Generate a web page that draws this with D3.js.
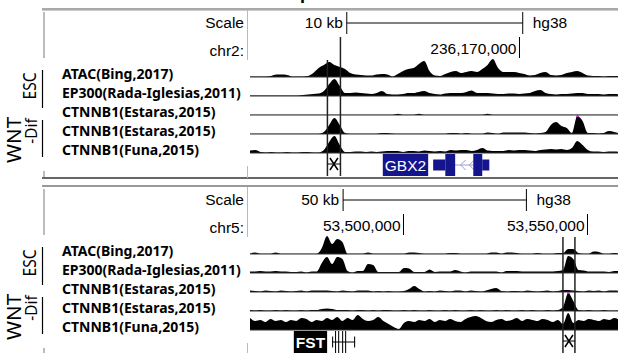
<!DOCTYPE html>
<html>
<head>
<meta charset="utf-8">
<script src="https://cdn.jsdelivr.net/npm/d3@7"></script>
<style>
  body { margin: 0; background: #fff; }
  svg { display: block; }
</style>
</head>
<body>
<div id="chart"></div>
<script>
// ---- data ----
const trackNames = ['ATAC(Bing,2017)', 'EP300(Rada-Iglesias,2011)', 'CTNNB1(Estaras,2015)', 'CTNNB1(Estaras,2015)', 'CTNNB1(Funa,2015)']
const groupNames = ['ESC', 'WNT', '-Dif']

// GBX2 locus, chr2, 300 bp bins
const gbxChrom = 'chr2:'
const gbxView = [236154700, 236175700]
const gbxBin = 300
const gbxTicks = [236170000]
const gbxTickLabels = ['236,170,000']
const gbxScaleBar = [236160200, 236170200]
const gbxScaleLabel = '10 kb'
const gbxHighlight = [236159100, 236159840]
const gbxAtac = [0.5,0.5,0.5,0.5,1,2.5,2.5,2,0.5,0.5,0.5,1,4,9,12,15,12,10,8,4,2.5,2,1.5,1.5,2.5,3,2.5,0.5,3,6,8,9,13,16,6,1.5,1,3,5,6,4,5,6,5,8,12,18,9,5,5,5,4,3,1.5,2,4,5,2,1.5,2,4,5,6,4,1.5,1,1,0.5,1,1,1]
const gbxEp300 = [0.5,0.5,0.5,0.5,0.5,0.5,0.5,0.5,0.5,0.5,1,1.5,2,2.5,5,12,17,10,3,3,3.5,3,2.5,2,3,5,2,1.5,1.5,2,3,3,4,5,3,2,1.5,2.5,3,3,3,4,5.5,3,3,3,2.5,2,2,2.5,2.5,2,2.5,3,5,6,3,2,1.5,2,2,2.5,3,3,2,2,2,1.5,2,2,1.5]
const gbxEstarasEsc = [0.3,0.3,0.3,0.3,0.3,0.3,0.3,0.3,0.3,0.3,0.3,0.3,0.3,0.3,0.3,0.3,0.3,0.3,0.3,0.3,0.3,0.3,0.3,0.3,0.3,0.3,0.3,0.3,1.2,0.3,0.3,0.3,1.2,0.3,0.3,0.3,0.3,0.3,0.3,0.3,0.3,0.3,0.3,0.3,0.3,1.2,0.3,0.3,0.3,0.3,0.3,0.3,0.3,0.3,0.3,0.3,0.3,0.3,0.3,0.3,0.3,0.3,0.3,0.3,0.3,0.3,0.3,0.3,0.3,0.3,0.3]
const gbxEstarasDif = [0.3,0.3,0.3,0.3,0.3,0.3,0.3,0.3,0.3,0.3,0.3,0.3,0.3,0.3,2,9,16,9,1,0.3,0.3,0.3,0.3,0.3,0.3,1,1,0.5,0.3,0.3,0.3,0.3,0.3,0.3,0.3,0.3,0.3,0.3,1,1,0.3,1,0.3,0.3,0.3,1.5,1,0.3,1.5,1.5,1.5,1.5,1.5,1,0.5,1,2,9,12,8,6,1,20,13,1,1,0.5,1,3,2,0.5]
const gbxFuna = [2.5,3,1,0.5,1,0.5,0.5,1,0.5,0.5,1,1,0.5,0.5,3,11,17,8,1,1,1.5,1.5,1,1.5,1,1.5,2,2,2,1,2,2,1.5,2.5,2,1.5,2,1.5,3,2.5,3,3,2,3,5,2.5,2,2,2,3,2.5,3,3,2.5,2,3,3.5,4,3.5,4,3,5,12,8,3,1.5,1.5,1,1.5,1.5,1]
const gbxGene = 'GBX2'
const gbxExons = [[236165110, 236165800, 'utr'], [236165800, 236166360, 'cds'], [236167390, 236167900, 'cds'], [236167900, 236168300, 'utr']]

// FST locus, chr5, 1400 bp bins
const fstChrom = 'chr5:'
const fstView = [53458200, 53559000]
const fstBin = 1400
const fstTicks = [53500000, 53550000]
const fstTickLabels = ['53,500,000', '53,550,000']
const fstScaleBar = [53483600, 53533600]
const fstScaleLabel = '50 kb'
const fstHighlight = [53543570, 53546840]
const fstAtac = [0.3,1.5,0.3,0.3,0.3,1.5,0.3,0.3,0.3,0.3,0.3,0.3,0.3,0.3,6,18,10,15,12,0.3,0.3,0.3,0.3,1.5,0.3,0.3,0.3,0.3,0.3,0.3,0.3,1.5,1.5,1,0.3,0.3,0.3,0.3,0.3,1,1,0.3,0.3,0.3,0.3,0.3,0.3,1.5,1.5,0.3,1.5,1.5,1,0.3,0.3,0.3,1,0.3,0.3,0.3,1,1,5,5,1,0.3,0.3,2.5,2,0.3,0.3,1,0.3]
const fstEp300 = [1.5,1.5,2,1.5,1.5,2,1.5,1.5,1,1,1.5,0.5,1.5,1.5,10,16,9,16,14,2,0.5,2,2,9,8,1,1,1,1,1,5,4.5,1,1,1,3.5,1,1.5,1.5,1.5,3,1.5,0.5,1.5,1.5,1.5,1.5,1.5,1.5,0.5,2,2,2,1.5,1.5,1.5,1.5,1.5,1.5,1.5,2,3,17,14,3,2.5,1.5,1.5,1.5,1.5,1,2,2]
const fstEstarasEsc = [1.5,1,0.5,1.5,1,0.5,1.5,1,0.5,1,1.5,0.5,1.5,1.5,1.5,1.5,1,0.5,1.5,1,0.5,1.5,1.5,1.5,0.5,1,0.5,1,0.5,0.5,1,3,6,3,0.5,1,0.5,1.5,1,0.5,1.5,1.5,0.5,1.5,1,0.5,1.5,3,4,1,0.5,1,1,0.5,1.5,1,0.5,1,1.5,0.5,1,2,2,1.5,1,0.5,1.5,1,1.5,0.5,1.5,1.5,1]
const fstEstarasDif = [1,0.5,1,0.5,0.5,1,0.5,1,0.5,0.5,1,0.5,1,1,2,2.5,2,1,1,1,0.5,1,1,0.5,1,0.5,1,1,0.5,0.5,1,0.5,1,0.5,0.5,1,0.5,0.5,1,0.5,1,0.5,0.5,1,0.5,1,0.5,0.5,1,0.5,1,0.5,0.5,1,0.5,1,0.5,0.5,1,0.5,1,4,20,10,1,0.5,1,0.5,0.5,1,0.5,0.5,1]
const fstFuna = [12,9,10,8,11,9,10,8,10,9,12,11,8,10,9,12,10,13,9,12,10,15,11,9,10,13,9,6,3,1,7,9,8,10,9,11,8,10,9,11,9,8,11,13,14,12,9,8,10,11,9,10,12,9,11,10,9,11,10,8,10,6,17,7,10,9,11,10,9,11,10,12,10]
const fstGene = 'FST'
const fstExons = [[53480600, 53480880, 'utr'], [53481400, 53481680, 'cds'], [53482250, 53482530, 'cds'], [53483330, 53483610, 'cds'], [53484150, 53484430, 'cds'], [53486600, 53486880, 'utr']]

const panels = [
  { offset: 0, chrom: gbxChrom, view: gbxView, bin: gbxBin, ticks: gbxTicks, tickLabels: gbxTickLabels, bar: gbxScaleBar, barLabel: gbxScaleLabel,
    highlight: gbxHighlight, hlTop: [60, 37], tracks: [gbxAtac, gbxEp300, gbxEstarasEsc, gbxEstarasDif, gbxFuna],
    gene: gbxGene, exons: gbxExons, geneColor: '#14148c', intronColor: '#9a9ad8', geneWeight: 'normal' },
  { offset: 177, chrom: fstChrom, view: fstView, bin: fstBin, ticks: fstTicks, tickLabels: fstTickLabels, bar: fstScaleBar, barLabel: fstScaleLabel,
    highlight: fstHighlight, hlTop: [60, 60], tracks: [fstAtac, fstEp300, fstEstarasEsc, fstEstarasDif, fstFuna],
    gene: fstGene, exons: fstExons, geneColor: '#000', intronColor: '#000', geneWeight: 'bold' }
]

// ---- drawing ----
const W = 618, H = 353
const trackLeft = 250, trackRight = 619.5
const firstBase = 77, trackStep = 19, trackMax = 18
const sansFont = '"Liberation Sans", Arial, sans-serif'
const labelFont = '"Noto Sans", "Open Sans", sans-serif'

const svg = d3.select('#chart').append('svg').attr('width', W).attr('height', H)

// cropped title descender at top edge
svg.append('text').attr('x', 300).attr('y', -1)
  .style('font', `bold 18px ${sansFont}`).text('p')

const y = d3.scaleLinear().domain([0, trackMax]).range([0, trackMax])

panels.forEach((p, pi) => {
  const g = svg.append('g').attr('transform', `translate(0,${p.offset})`)
  const x = d3.scaleLinear().domain(p.view).range([trackLeft, trackRight])

  // frame lines
  if (pi === 0) {
    g.append('line').attr('x1', 42).attr('x2', W).attr('y1', 9).attr('y2', 9).attr('stroke', '#555').attr('stroke-width', 1.2)
    g.append('line').attr('x1', 42).attr('x2', W).attr('y1', 10.5).attr('y2', 10.5).attr('stroke', '#ccc').attr('stroke-width', 1)
    g.append('line').attr('x1', 42).attr('x2', W).attr('y1', 178).attr('y2', 178).attr('stroke', '#333').attr('stroke-width', 1.3)
  } else {
    g.append('line').attr('x1', 42).attr('x2', W).attr('y1', 9).attr('y2', 9).attr('stroke', '#999').attr('stroke-width', 2)
  }
  // left gray rule and pink guide
  g.append('line').attr('x1', 44).attr('x2', 44).attr('y1', 12).attr('y2', 58).attr('stroke', '#bbb').attr('stroke-width', 2)
  g.append('line').attr('x1', 44).attr('x2', 44).attr('y1', 171).attr('y2', 177).attr('stroke', '#bbb').attr('stroke-width', 2)
  g.append('line').attr('x1', 247.5).attr('x2', 247.5).attr('y1', 10).attr('y2', 60).attr('stroke', '#f2a0a0').attr('stroke-width', 1)
  g.append('line').attr('x1', 247.5).attr('x2', 247.5).attr('y1', 166).attr('y2', 178).attr('stroke', '#f2a0a0').attr('stroke-width', 1)

  // scale row
  g.append('text').attr('x', 244).attr('y', 28).attr('text-anchor', 'end')
    .style('font', `15.5px ${sansFont}`).text('Scale')
  g.append('text').attr('x', 244).attr('y', 56).attr('text-anchor', 'end')
    .style('font', `15.5px ${sansFont}`).text(p.chrom)

  const b0 = x(p.bar[0]), b1 = x(p.bar[1])
  g.append('line').attr('x1', b0).attr('x2', b1).attr('y1', 23).attr('y2', 23).attr('stroke', '#000')
  ;[b0, b1].forEach(bx => g.append('line').attr('x1', bx).attr('x2', bx).attr('y1', 12).attr('y2', 34).attr('stroke', '#000'))
  g.append('text').attr('x', b0 - 4).attr('y', 28).attr('text-anchor', 'end')
    .style('font', `15.5px ${sansFont}`).text(p.barLabel)
  g.append('text').attr('x', b1 + 10).attr('y', 28)
    .style('font', `15.5px ${sansFont}`).text('hg38')

  // position ticks
  p.ticks.forEach((t, i) => {
    const tx = Math.round(x(t)) + 0.5
    g.append('line').attr('x1', tx).attr('x2', tx).attr('y1', 37).attr('y2', 58).attr('stroke', '#000')
    g.append('text').attr('x', tx - 3).attr('y', 54).attr('text-anchor', 'end')
      .style('font', `15.5px ${sansFont}`).text(p.tickLabels[i])
  })

  // group labels
  g.append('text').attr('transform', 'translate(36,86) rotate(-90) scale(0.82,1)').attr('text-anchor', 'middle')
    .style('font', `19px ${labelFont}`).text(groupNames[0])
  g.append('text').attr('transform', 'translate(20.5,140) rotate(-90)').attr('text-anchor', 'middle')
    .style('font', `20.5px ${labelFont}`).text(groupNames[1])
  g.append('text').attr('transform', 'translate(36.5,131) rotate(-90) scale(0.9,1)').attr('text-anchor', 'middle')
    .style('font', `17px ${labelFont}`).text(groupNames[2])
  g.append('line').attr('x1', 42.5).attr('x2', 42.5).attr('y1', 70).attr('y2', 108).attr('stroke', '#000').attr('stroke-width', 1.2)
  g.append('line').attr('x1', 42.5).attr('x2', 42.5).attr('y1', 120).attr('y2', 157).attr('stroke', '#000').attr('stroke-width', 1.2)

  // tracks
  p.tracks.forEach((vals, ti) => {
    const base = firstBase + ti * trackStep
    g.append('text').attr('x', 62).attr('y', base + 2)
      .style('font', `bold 14px ${labelFont}`).text(trackNames[ti])
    const area = d3.area()
      .x((d, i) => x(p.view[0] + i * p.bin))
      .y0(base)
      .y1(d => base - y(Math.min(d, trackMax)))
      .curve(d3.curveMonotoneX)
    g.append('path').datum(vals).attr('d', area).attr('fill', '#000')
    g.append('line').attr('x1', trackLeft).attr('x2', W).attr('y1', base).attr('y2', base)
      .attr('stroke', '#333').attr('stroke-width', 1.2)
    // clipped values marked in magenta
    vals.forEach((v, i) => {
      if (v > trackMax) {
        g.append('rect').attr('x', x(p.view[0] + i * p.bin) - 1).attr('y', base - trackMax - 1)
          .attr('width', 2.5).attr('height', 2).attr('fill', '#e020e0')
      }
    })
  })

  // highlight box
  const h0 = x(p.highlight[0]), h1 = x(p.highlight[1])
  ;[h0, h1].forEach((hx, k) => g.append('line').attr('x1', hx).attr('x2', hx).attr('y1', p.hlTop[k]).attr('y2', 176)
    .attr('stroke', '#222').attr('stroke-width', 1.5))
  const hc = (h0 + h1) / 2
  g.append('line').attr('x1', h0).attr('x2', h1).attr('y1', 164).attr('y2', 164).attr('stroke', '#000')
  g.append('path').attr('d', `M${hc - 4},${158}L${hc + 4},${170}M${hc + 4},${158}L${hc - 4},${170}`)
    .attr('stroke', '#000').attr('stroke-width', 1.5)

  // gene model
  const gy = 165
  const gs = x(p.exons[0][0]), ge = x(p.exons[p.exons.length - 1][1])
  g.append('line').attr('x1', gs).attr('x2', ge).attr('y1', gy).attr('y2', gy)
    .attr('stroke', p.intronColor).attr('stroke-width', 1)
  if (pi === 0) {
    // strand arrows inside the intron
    const ia = x(p.exons[1][1]), ib = x(p.exons[2][0])
    ;[ia + (ib - ia) * 0.3, ia + (ib - ia) * 0.78].forEach(ax => {
      g.append('path').attr('d', `M${ax + 5},${gy - 5}L${ax},${gy}L${ax + 5},${gy + 5}`)
        .attr('fill', 'none').attr('stroke', p.intronColor).attr('stroke-width', 1)
    })
  }
  p.exons.forEach(e => {
    const hgt = e[2] === 'cds' ? 22 : 11
    g.append('rect').attr('x', x(e[0])).attr('width', Math.max(1, x(e[1]) - x(e[0])))
      .attr('y', gy - hgt / 2).attr('height', hgt).attr('fill', p.geneColor)
  })
  const lbl = g.append('text').attr('y', gy + 5.5).attr('text-anchor', 'end')
    .attr('x', gs - 7).attr('fill', '#fff')
    .style('font', `${p.geneWeight} 15.5px ${sansFont}`).text(p.gene)
  const lw = lbl.node().getComputedTextLength()
  g.insert('rect', () => lbl.node()).attr('x', gs - 9 - lw).attr('y', gy - 11)
    .attr('width', lw + 4).attr('height', 22).attr('fill', p.geneColor)
})
</script>
</body>
</html>
